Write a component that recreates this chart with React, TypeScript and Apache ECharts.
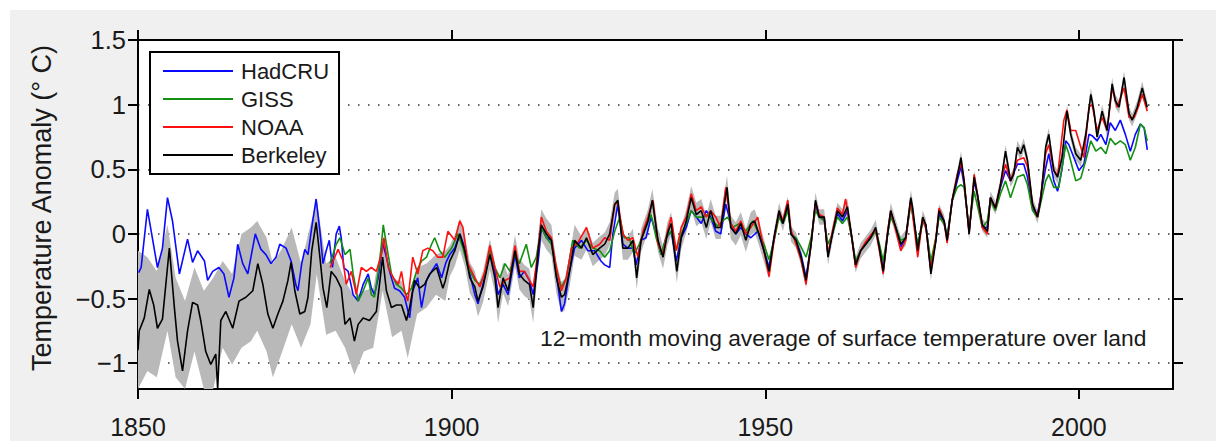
import React, { useEffect, useRef } from "react";
import * as echarts from "echarts";

type P = [number, number];

const seriesNames = ["HadCRU", "GISS", "NOAA", "Berkeley"];
const seriesColors = ["#0a0aff", "#119011", "#ff1010", "#000000"];
const xTickValues = [1850, 1900, 1950, 2000];
const yTickValues = [-1, -0.5, 0, 0.5, 1, 1.5];
const annotation = "12\u2212month moving average of surface temperature over land";
const yTitle = "Temperature Anomaly (\u00b0 C)";

const hadcru: P[] = [
  [1850.1, -0.3], [1850.5, -0.26], [1851.5, 0.19], [1852.0, 0.05], [1853.1, -0.26], [1853.9, -0.11], [1854.7, 0.28],
  [1855.5, 0.1], [1856.6, -0.31], [1857.9, -0.04], [1858.7, -0.22], [1859.5, -0.13], [1860.6, -0.21], [1861.1, -0.36],
  [1861.9, -0.29], [1862.9, -0.26], [1863.7, -0.31], [1864.5, -0.49], [1865.3, -0.34], [1865.9, -0.08], [1866.7, -0.23],
  [1867.5, -0.31], [1868.7, 0.0], [1869.6, -0.12], [1870.4, -0.16], [1871.2, -0.23], [1872.0, -0.18], [1872.6, -0.08],
  [1873.6, -0.11], [1874.4, -0.21], [1875.2, -0.4], [1875.5, -0.44], [1876.1, -0.23], [1876.6, -0.12], [1877.1, -0.16],
  [1877.7, 0.05], [1878.4, 0.27], [1879.0, 0.02], [1879.5, -0.23], [1880.0, -0.13], [1880.5, -0.05], [1881.0, -0.26],
  [1881.6, 0.0], [1882.1, 0.06], [1882.4, -0.03], [1882.8, -0.26], [1883.5, -0.29], [1884.3, -0.47], [1885.1, -0.52],
  [1885.9, -0.39], [1886.7, -0.31], [1887.2, -0.42], [1887.7, -0.47], [1888.3, -0.34], [1889.0, -0.07], [1889.6, -0.18],
  [1890.1, -0.29], [1890.9, -0.42], [1891.7, -0.44], [1892.5, -0.49], [1893.3, -0.65], [1893.8, -0.44], [1894.6, -0.34],
  [1895.2, -0.57], [1896.0, -0.36], [1896.8, -0.29], [1897.6, -0.23], [1898.4, -0.34], [1899.1, -0.22], [1899.7, -0.16],
  [1900.5, -0.11], [1901.3, 0.0], [1902.1, -0.11], [1902.9, -0.31], [1903.7, -0.47], [1904.2, -0.54], [1905.0, -0.39],
  [1906.1, -0.13], [1906.9, -0.29], [1907.4, -0.47], [1908.2, -0.39], [1909.0, -0.47], [1910.1, -0.16], [1910.8, -0.34],
  [1911.6, -0.29], [1912.4, -0.36], [1913.0, -0.47], [1913.8, -0.21], [1914.3, 0.05], [1915.1, -0.03], [1915.9, -0.05],
  [1916.7, -0.31], [1917.5, -0.6], [1918.0, -0.54], [1918.8, -0.29], [1919.6, -0.11], [1920.7, -0.05], [1921.7, -0.13],
  [1922.8, -0.13], [1923.8, -0.21], [1924.4, -0.24], [1925.2, -0.26], [1925.7, 0.0], [1926.5, 0.23], [1927.3, -0.08],
  [1928.1, -0.11], [1928.9, -0.11], [1929.4, -0.24], [1930.2, -0.05], [1931.0, -0.03], [1931.8, 0.13], [1932.6, 0.0],
  [1933.4, -0.16], [1934.2, -0.03], [1935.0, 0.02], [1935.8, -0.21], [1936.6, -0.03], [1937.4, 0.05], [1938.2, 0.18],
  [1939.0, 0.13], [1939.8, 0.08], [1940.6, 0.18], [1941.3, 0.13], [1942.1, 0.02], [1942.9, 0.0], [1943.7, 0.23],
  [1944.5, 0.08], [1945.3, 0.0], [1946.1, 0.05], [1946.9, 0.0], [1947.7, -0.03], [1948.8, 0.02], [1949.8, -0.13],
  [1950.6, -0.26], [1951.4, -0.03], [1952.2, 0.16], [1952.8, 0.08], [1953.6, 0.21], [1954.1, 0.0], [1954.9, -0.05],
  [1955.7, -0.16], [1956.5, -0.34], [1957.3, -0.08], [1958.0, 0.23], [1958.6, 0.13], [1959.4, 0.12], [1960.0, -0.16],
  [1960.7, 0.0], [1961.5, 0.16], [1962.3, 0.1], [1963.1, 0.18], [1963.8, -0.03], [1964.4, -0.24], [1965.2, -0.13],
  [1966.0, -0.08], [1966.8, -0.03], [1967.6, 0.03], [1968.2, -0.11], [1968.8, -0.29], [1969.5, 0.0], [1970.0, 0.16],
  [1970.8, 0.05], [1971.6, -0.1], [1972.4, -0.03], [1973.2, 0.26], [1974.3, -0.1], [1975.1, 0.1], [1975.6, 0.07],
  [1976.4, -0.26], [1977.2, -0.05], [1977.7, 0.15], [1978.5, 0.1], [1979.0, -0.03], [1979.8, 0.26], [1980.6, 0.41],
  [1981.2, 0.52], [1981.7, 0.38], [1982.5, 0.02], [1983.3, 0.41], [1983.8, 0.31], [1984.6, 0.05], [1985.4, 0.05],
  [1985.9, 0.28], [1986.7, 0.2], [1987.5, 0.36], [1988.3, 0.49], [1989.1, 0.41], [1990.2, 0.54], [1991.2, 0.54],
  [1991.8, 0.44], [1992.6, 0.2], [1993.4, 0.15], [1994.7, 0.51], [1995.2, 0.62], [1996.0, 0.41], [1996.6, 0.33],
  [1997.3, 0.5], [1997.9, 0.72], [1998.4, 0.69], [1999.2, 0.59], [2000.0, 0.49], [2000.8, 0.54], [2001.6, 0.77],
  [2002.1, 0.76], [2002.9, 0.72], [2003.5, 0.77], [2004.3, 0.69], [2005.0, 0.86], [2005.8, 0.8], [2006.6, 0.88],
  [2007.4, 0.77], [2008.2, 0.64], [2009.0, 0.77], [2009.8, 0.85], [2010.4, 0.82], [2010.9, 0.65],
];

const giss: P[] = [
  [1880.6, -0.23], [1881.6, -0.08], [1882.2, -0.03], [1883.0, -0.16], [1883.8, -0.12], [1884.3, -0.31], [1885.1, -0.52],
  [1885.9, -0.44], [1886.7, -0.34], [1887.2, -0.47], [1887.7, -0.49], [1888.5, -0.23], [1889.1, 0.07], [1889.6, -0.08],
  [1890.4, -0.31], [1891.2, -0.39], [1892.0, -0.42], [1892.8, -0.47], [1893.6, -0.42], [1894.4, -0.29], [1895.2, -0.21],
  [1896.0, -0.18], [1896.8, -0.08], [1897.3, -0.03], [1898.1, -0.13], [1898.9, -0.18], [1900.0, -0.11], [1901.0, 0.0],
  [1901.8, -0.11], [1902.6, -0.26], [1903.7, -0.36], [1904.5, -0.39], [1905.3, -0.31], [1906.1, -0.13], [1906.9, -0.26],
  [1907.7, -0.34], [1908.5, -0.23], [1909.3, -0.29], [1910.1, -0.16], [1910.8, -0.23], [1911.9, -0.08], [1912.7, -0.26],
  [1913.5, -0.18], [1914.3, 0.05], [1915.1, -0.03], [1915.9, -0.08], [1916.7, -0.29], [1917.5, -0.41], [1918.3, -0.34],
  [1919.3, -0.05], [1920.4, -0.11], [1921.5, -0.05], [1922.5, -0.11], [1923.6, -0.13], [1924.4, -0.18], [1925.2, -0.13],
  [1926.0, 0.02], [1926.8, 0.13], [1927.5, -0.03], [1928.3, -0.03], [1929.1, -0.16], [1929.9, -0.08], [1931.0, 0.05],
  [1931.8, 0.15], [1932.6, -0.03], [1933.4, -0.16], [1934.2, -0.03], [1935.0, 0.02], [1935.8, -0.13], [1936.6, 0.0],
  [1937.4, 0.08], [1938.2, 0.18], [1939.0, 0.13], [1940.0, 0.13], [1940.8, 0.15], [1941.6, 0.1], [1942.4, 0.06],
  [1943.2, 0.1], [1944.0, 0.13], [1944.8, 0.05], [1945.9, 0.08], [1946.9, 0.02], [1948.0, 0.1], [1948.8, 0.02],
  [1949.8, -0.08], [1950.6, -0.2], [1951.4, -0.05], [1952.2, 0.13], [1952.8, 0.08], [1953.6, 0.18], [1954.1, 0.0],
  [1954.9, -0.03], [1955.7, -0.1], [1956.5, -0.18], [1957.3, -0.03], [1958.0, 0.18], [1958.6, 0.13], [1959.4, 0.1],
  [1960.0, -0.08], [1960.7, 0.0], [1961.5, 0.13], [1962.3, 0.08], [1963.1, 0.13], [1963.8, -0.03], [1964.4, -0.21],
  [1965.2, -0.13], [1966.0, -0.08], [1966.8, -0.03], [1967.6, 0.02], [1968.2, -0.08], [1968.8, -0.21], [1969.5, 0.0],
  [1970.0, 0.13], [1970.8, 0.05], [1971.6, -0.05], [1972.4, -0.03], [1973.2, 0.23], [1974.3, -0.08], [1975.1, 0.1],
  [1975.6, 0.05], [1976.4, -0.21], [1977.2, -0.03], [1977.7, 0.13], [1978.5, 0.08], [1979.0, -0.02], [1979.8, 0.26],
  [1980.6, 0.36], [1981.2, 0.38], [1981.7, 0.36], [1982.5, 0.05], [1983.3, 0.33], [1984.6, 0.05], [1985.4, 0.1],
  [1985.9, 0.26], [1986.7, 0.18], [1987.5, 0.31], [1988.3, 0.41], [1989.1, 0.28], [1990.2, 0.44], [1991.2, 0.46],
  [1991.8, 0.38], [1992.6, 0.18], [1993.4, 0.13], [1994.7, 0.41], [1995.2, 0.46], [1996.0, 0.36], [1996.8, 0.36],
  [1997.9, 0.69], [1998.4, 0.62], [1999.5, 0.41], [2000.3, 0.43], [2001.1, 0.57], [2001.9, 0.72], [2002.7, 0.64],
  [2003.5, 0.67], [2004.3, 0.62], [2005.0, 0.74], [2005.8, 0.69], [2006.6, 0.72], [2007.4, 0.69], [2008.2, 0.57],
  [2009.0, 0.67], [2009.8, 0.85], [2010.4, 0.82], [2010.9, 0.72],
];

const noaa: P[] = [
  [1880.6, -0.26], [1881.1, -0.21], [1881.9, -0.12], [1882.7, -0.21], [1883.2, -0.39], [1884.0, -0.29], [1884.8, -0.47],
  [1885.6, -0.26], [1886.4, -0.29], [1887.2, -0.26], [1888.0, -0.29], [1888.8, -0.16], [1889.2, -0.03], [1889.9, -0.26],
  [1890.7, -0.34], [1891.5, -0.39], [1892.0, -0.29], [1892.5, -0.44], [1893.0, -0.52], [1893.8, -0.18], [1894.6, -0.31],
  [1895.4, -0.13], [1896.2, -0.11], [1897.0, -0.13], [1897.8, -0.18], [1898.6, -0.18], [1899.4, 0.02], [1900.5, -0.05],
  [1901.3, 0.1], [1901.8, 0.05], [1902.6, -0.23], [1903.7, -0.34], [1904.5, -0.41], [1905.3, -0.29], [1906.1, -0.09],
  [1906.9, -0.26], [1907.7, -0.41], [1908.5, -0.36], [1909.3, -0.34], [1910.1, -0.09], [1910.8, -0.29], [1911.6, -0.29],
  [1912.4, -0.36], [1913.0, -0.41], [1913.8, -0.13], [1914.3, 0.13], [1915.1, 0.02], [1915.9, -0.03], [1916.7, -0.26],
  [1917.5, -0.44], [1918.3, -0.34], [1919.1, -0.11], [1920.1, -0.07], [1921.5, 0.05], [1922.5, -0.11], [1923.6, -0.08],
  [1924.4, -0.03], [1925.2, -0.05], [1926.0, 0.23], [1926.5, 0.24], [1927.3, 0.0], [1928.1, -0.05], [1928.9, -0.03],
  [1929.7, -0.18], [1930.5, 0.02], [1931.3, 0.13], [1932.1, 0.26], [1932.9, -0.08], [1933.7, -0.16], [1934.4, 0.02],
  [1935.0, 0.13], [1935.8, -0.13], [1936.6, 0.05], [1937.4, 0.13], [1938.2, 0.31], [1939.0, 0.18], [1939.8, 0.21],
  [1940.6, 0.13], [1941.3, 0.18], [1942.1, 0.13], [1942.9, 0.05], [1943.7, 0.36], [1944.5, 0.08], [1945.3, 0.02],
  [1946.1, 0.1], [1946.9, 0.0], [1947.7, 0.05], [1948.8, 0.13], [1949.8, -0.13], [1950.6, -0.33], [1951.4, -0.05],
  [1952.2, 0.18], [1952.8, 0.1], [1953.6, 0.26], [1954.1, 0.03], [1954.9, -0.08], [1955.7, -0.2], [1956.5, -0.39],
  [1957.3, -0.08], [1958.0, 0.24], [1958.6, 0.15], [1959.4, 0.13], [1960.0, -0.16], [1960.7, 0.02], [1961.5, 0.2],
  [1962.3, 0.15], [1962.8, 0.27], [1963.8, -0.03], [1964.4, -0.26], [1965.2, -0.13], [1966.0, -0.06], [1966.8, -0.01],
  [1967.6, 0.03], [1968.2, -0.13], [1968.8, -0.31], [1969.5, 0.02], [1970.0, 0.18], [1970.8, 0.03], [1971.6, -0.13],
  [1972.4, -0.05], [1973.2, 0.27], [1974.3, -0.18], [1975.1, 0.12], [1975.6, 0.05], [1976.4, -0.28], [1977.2, -0.03],
  [1977.7, 0.2], [1978.5, 0.1], [1979.0, -0.07], [1979.8, 0.26], [1980.6, 0.46], [1981.2, 0.55], [1981.7, 0.41],
  [1982.5, 0.0], [1983.3, 0.46], [1983.8, 0.31], [1984.6, 0.05], [1985.4, 0.0], [1985.9, 0.28], [1986.7, 0.2],
  [1987.5, 0.38], [1988.3, 0.54], [1989.1, 0.41], [1990.2, 0.57], [1991.2, 0.59], [1991.8, 0.52], [1992.6, 0.23],
  [1993.4, 0.13], [1993.9, 0.28], [1994.7, 0.62], [1995.2, 0.69], [1996.0, 0.49], [1996.6, 0.45], [1997.6, 0.88],
  [1998.1, 0.96], [1998.7, 0.8], [1999.5, 0.8], [2000.0, 0.72], [2000.8, 0.59], [2001.6, 0.98], [2002.1, 1.0],
  [2002.9, 0.8], [2003.7, 0.9], [2004.5, 0.8], [2005.3, 1.13], [2006.1, 0.98], [2007.2, 1.13], [2008.0, 0.9],
  [2008.8, 0.9], [2009.6, 1.0], [2010.1, 1.08], [2010.9, 0.95],
];

const berkeley: P[] = [
  [1850.0, -0.9], [1850.2, -0.75], [1851.0, -0.65], [1851.8, -0.43], [1852.5, -0.55], [1853.1, -0.73], [1853.9, -0.66],
  [1854.7, -0.26], [1855.0, -0.11], [1855.8, -0.57], [1856.3, -0.83], [1857.1, -1.06], [1857.9, -0.75], [1858.7, -0.53],
  [1859.5, -0.55], [1860.0, -0.67], [1860.8, -0.91], [1861.6, -1.01], [1862.4, -0.93], [1862.7, -1.2], [1863.2, -0.67],
  [1864.0, -0.6], [1865.1, -0.73], [1866.1, -0.52], [1867.2, -0.49], [1868.3, -0.44], [1869.1, -0.23], [1869.9, -0.39],
  [1870.7, -0.62], [1871.5, -0.73], [1872.3, -0.62], [1873.1, -0.52], [1873.9, -0.36], [1874.4, -0.22], [1875.0, -0.44],
  [1875.8, -0.62], [1876.6, -0.6], [1877.1, -0.49], [1877.7, -0.13], [1878.4, 0.09], [1879.0, -0.18], [1879.5, -0.42],
  [1880.1, -0.57], [1880.8, -0.29], [1881.6, -0.34], [1882.4, -0.42], [1883.0, -0.7], [1883.8, -0.65], [1884.5, -0.83],
  [1885.1, -0.7], [1885.9, -0.65], [1886.9, -0.67], [1888.0, -0.6], [1889.0, -0.18], [1889.6, -0.44], [1890.4, -0.57],
  [1891.2, -0.55], [1892.0, -0.55], [1892.8, -0.67], [1893.3, -0.57], [1894.1, -0.36], [1894.9, -0.42], [1895.7, -0.39],
  [1896.5, -0.31], [1897.6, -0.26], [1898.6, -0.42], [1899.0, -0.36], [1899.7, -0.21], [1900.5, -0.13], [1901.3, 0.0],
  [1902.1, -0.13], [1902.9, -0.34], [1903.7, -0.41], [1904.2, -0.52], [1905.0, -0.41], [1906.1, -0.16], [1906.9, -0.34],
  [1907.4, -0.57], [1908.2, -0.34], [1909.0, -0.44], [1910.1, -0.13], [1910.8, -0.31], [1911.6, -0.36], [1912.4, -0.39],
  [1913.0, -0.57], [1913.8, -0.13], [1914.3, 0.07], [1915.1, 0.0], [1915.9, -0.05], [1916.7, -0.34], [1917.5, -0.49],
  [1918.0, -0.47], [1918.8, -0.29], [1919.6, -0.05], [1920.7, -0.11], [1921.5, -0.03], [1922.5, -0.16], [1923.6, -0.11],
  [1924.4, -0.08], [1925.2, 0.0], [1926.0, 0.23], [1926.5, 0.26], [1927.3, -0.11], [1928.1, -0.11], [1928.9, -0.05],
  [1929.5, -0.34], [1930.2, -0.05], [1931.3, 0.1], [1932.0, 0.26], [1932.9, -0.05], [1933.7, -0.18], [1934.4, 0.0],
  [1935.0, 0.08], [1935.9, -0.29], [1936.6, -0.03], [1937.4, 0.1], [1938.2, 0.28], [1939.0, 0.15], [1939.8, 0.18],
  [1940.6, 0.05], [1941.3, 0.18], [1942.1, 0.05], [1942.9, 0.05], [1943.9, 0.36], [1944.5, 0.05], [1945.3, 0.0],
  [1946.1, 0.08], [1946.9, -0.05], [1947.7, 0.08], [1948.3, 0.1], [1949.0, 0.0], [1949.8, -0.13], [1950.6, -0.29],
  [1951.4, -0.03], [1952.2, 0.18], [1952.8, 0.08], [1953.6, 0.23], [1954.1, 0.0], [1954.9, -0.05], [1955.7, -0.18],
  [1956.5, -0.36], [1957.3, -0.08], [1958.0, 0.26], [1958.6, 0.13], [1959.4, 0.13], [1960.0, -0.18], [1960.7, 0.0],
  [1961.5, 0.18], [1962.3, 0.13], [1963.1, 0.21], [1963.8, -0.03], [1964.4, -0.24], [1965.2, -0.13], [1966.0, -0.08],
  [1966.8, -0.03], [1967.6, 0.05], [1968.2, -0.11], [1968.8, -0.29], [1969.5, 0.0], [1970.0, 0.18], [1970.8, 0.05],
  [1971.6, -0.08], [1972.4, -0.03], [1973.2, 0.28], [1973.5, 0.2], [1974.3, -0.13], [1975.1, 0.13], [1975.6, 0.07],
  [1976.4, -0.31], [1977.2, -0.05], [1977.7, 0.18], [1978.5, 0.1], [1979.0, -0.05], [1979.8, 0.26], [1980.6, 0.44],
  [1981.2, 0.59], [1981.7, 0.41], [1982.5, 0.0], [1983.3, 0.44], [1983.8, 0.31], [1984.6, 0.07], [1985.4, 0.02],
  [1985.9, 0.28], [1986.7, 0.2], [1987.5, 0.38], [1988.3, 0.64], [1989.1, 0.41], [1989.6, 0.46], [1990.2, 0.67],
  [1990.7, 0.62], [1991.2, 0.69], [1991.8, 0.57], [1992.6, 0.23], [1993.4, 0.13], [1993.9, 0.26], [1994.7, 0.67],
  [1995.2, 0.77], [1996.0, 0.49], [1996.6, 0.44], [1997.3, 0.59], [1998.1, 0.95], [1998.7, 0.77], [1999.5, 0.62],
  [2000.3, 0.57], [2001.1, 0.77], [2001.9, 1.08], [2002.4, 0.95], [2002.9, 0.75], [2003.7, 0.95], [2004.5, 0.8],
  [2005.3, 1.16], [2005.8, 1.03], [2006.4, 0.98], [2007.2, 1.21], [2008.0, 0.93], [2008.5, 0.88], [2009.3, 0.98],
  [2010.1, 1.13], [2010.5, 1.05], [2010.9, 0.98],
];

// Berkeley uncertainty band, early period read directly: [year, low, high]
const bandEarly: [number, number, number][] = [
  [1850.0, -1.2, -0.13], [1851.5, -1.06, -0.18], [1853.0, -1.11, -0.29], [1854.7, -0.75, 0.07], [1856.0, -1.11, -0.34],
  [1857.5, -1.2, -0.52], [1859.0, -0.91, -0.26], [1860.5, -1.2, -0.44], [1862.0, -1.2, -0.34], [1863.5, -0.88, -0.21],
  [1865.0, -1.01, -0.31], [1866.5, -0.88, 0.0], [1868.0, -0.83, 0.05], [1869.0, -0.75, 0.1], [1870.5, -0.91, -0.03],
  [1871.5, -1.11, -0.23], [1873.0, -0.91, -0.11], [1874.5, -0.7, 0.05], [1876.0, -0.88, -0.23], [1877.5, -0.7, 0.07],
  [1878.5, -0.31, 0.26], [1880.0, -0.78, -0.23], [1881.5, -0.75, -0.18], [1883.0, -0.88, -0.36], [1884.5, -1.09, -0.49],
  [1886.0, -0.91, -0.44], [1887.5, -0.88, -0.42], [1889.0, -0.44, -0.03], [1890.5, -0.8, -0.36], [1892.0, -0.75, -0.36],
  [1893.0, -0.96, -0.49], [1894.5, -0.62, -0.26], [1896.0, -0.57, -0.23], [1897.5, -0.47, -0.16], [1899.0, -0.52, -0.13],
];
// half-width of the band after 1899, read per period: [from year, half-width]
const bandHalfWidth: P[] = [[1899.5, 0.12], [1920, 0.09], [1950, 0.06], [1975, 0.05]];

function halfWidthAt(year: number): number {
  let w = bandHalfWidth[0][1];
  for (const [y, v] of bandHalfWidth) if (year >= y) w = v;
  return w;
}

const bandPoints: [number, number, number][] = [
  ...bandEarly,
  ...berkeley.filter((p) => p[0] > 1899.4).map((p) => [p[0], p[1] - halfWidthAt(p[0]), p[1] + halfWidthAt(p[0])] as [number, number, number]),
];

const FONT = "'Liberation Sans', Arial, Helvetica, sans-serif";

export default function App() {
  const ref = useRef<HTMLDivElement>(null);
  useEffect(() => {
    if (!ref.current) return;
    const chart = echarts.init(ref.current, null, { renderer: "svg" });
    const minusFmt = (v: number) => String(v).replace("-", "\u2212");
    const axisLineStyle = { color: "#000", width: 2 };
    const seriesData = [hadcru, giss, noaa, berkeley];
    chart.setOption({
      animation: false,
      backgroundColor: "transparent",
      grid: { left: 128, top: 30, right: 43, bottom: 52, show: true, backgroundColor: "#fff", borderWidth: 0 },
      xAxis: [
        {
          type: "value", min: 1850, max: 2015, interval: 50, position: "bottom",
          axisLine: { show: true, onZero: false, lineStyle: axisLineStyle },
          axisTick: { show: true, inside: false, length: 10, lineStyle: axisLineStyle, customValues: xTickValues },
          axisLabel: { show: true, margin: 25, fontSize: 25, color: "#1a1a1a", fontFamily: FONT, customValues: xTickValues, formatter: (v: number) => String(v) },
          splitLine: { show: false },
        },
        {
          type: "value", min: 1850, max: 2015, interval: 50, position: "top",
          axisLine: { show: true, onZero: false, lineStyle: axisLineStyle },
          axisTick: { show: true, inside: false, length: 10, lineStyle: axisLineStyle, customValues: xTickValues },
          axisLabel: { show: false },
          splitLine: { show: false },
        },
      ],
      yAxis: [
        {
          type: "value", min: -1.2, max: 1.5, interval: 0.5, position: "left",
          axisLine: { show: true, onZero: false, lineStyle: axisLineStyle },
          axisTick: { show: true, inside: false, length: 10, lineStyle: axisLineStyle, customValues: yTickValues },
          axisLabel: { show: true, margin: 12, fontSize: 25.5, color: "#1a1a1a", fontFamily: FONT, customValues: yTickValues, formatter: minusFmt },
          splitLine: { show: true, lineStyle: { color: "#333", width: 1.5, type: [1.5, 8.5] } },
        },
        {
          type: "value", min: -1.2, max: 1.5, interval: 0.5, position: "right",
          axisLine: { show: true, onZero: false, lineStyle: axisLineStyle },
          axisTick: { show: true, inside: false, length: 10, lineStyle: axisLineStyle, customValues: yTickValues },
          axisLabel: { show: false },
          splitLine: { show: false },
        },
      ],
      legend: {
        data: seriesNames,
        orient: "vertical",
        left: 140, top: 42,
        backgroundColor: "#fff",
        borderColor: "#000", borderWidth: 2, borderRadius: 0,
        padding: [8, 10, 8, 13],
        icon: "rect",
        itemWidth: 70, itemHeight: 2, itemGap: 6,
        textStyle: { fontSize: 22, fontFamily: FONT, color: "#1a1a1a", lineHeight: 22, padding: [0, 0, 0, 3] },
      },
      graphic: [
        {
          type: "text", x: 32, y: 198, rotation: Math.PI / 2,
          style: { text: yTitle, font: `27px ${FONT}`, fill: "#1a1a1a", textAlign: "center", textVerticalAlign: "middle" },
        },
        {
          type: "text", x: 530, y: 328,
          style: { text: annotation, font: `22.8px ${FONT}`, fill: "#1a1a1a", textAlign: "left", textVerticalAlign: "middle" },
          z: 100,
        },
      ],
      series: [
        {
          type: "custom", name: "band", coordinateSystem: "cartesian2d", silent: true,
          data: [[1900, 0]],
          renderItem: (_params: any, api: any) => {
            const upper = bandPoints.map((p) => api.coord([p[0], p[2]]));
            const lower = bandPoints.map((p) => api.coord([p[0], p[1]])).reverse();
            return { type: "polygon", shape: { points: upper.concat(lower) }, style: { fill: "#b9b9b9", stroke: "none" } };
          },
          z: 1,
        },
        ...seriesNames.map((name, i) => ({
          type: "line", name, data: seriesData[i], symbol: "none", showSymbol: false,
          color: seriesColors[i],
          itemStyle: { color: seriesColors[i] },
          lineStyle: { color: seriesColors[i], width: 1.6 },
          z: 2 + i,
        })),
      ],
    });
    return () => chart.dispose();
  }, []);
  return (
    <div style={{ position: "absolute", left: 10, top: 10, width: 1206, height: 431, background: "#f0f0f0" }}>
      <div ref={ref} style={{ width: 1206, height: 431 }} />
    </div>
  );
}
